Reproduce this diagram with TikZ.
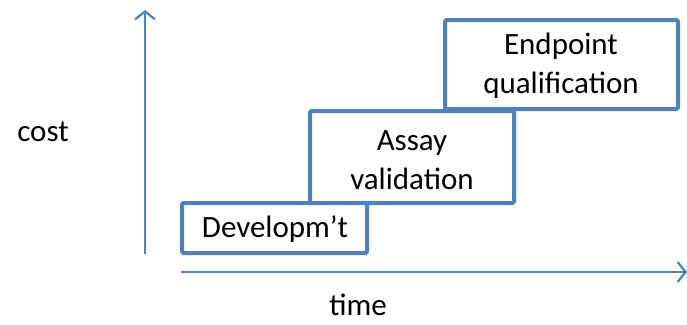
\documentclass[tikz,border=0pt]{standalone}
\usepackage{fontspec}
\setmainfont{Carlito}
\usetikzlibrary{arrows.meta}
\definecolor{ofblue}{HTML}{4F81BD}
\begin{document}
\begin{tikzpicture}[x=1pt,y=-1pt,
  stage/.style={draw=ofblue,line width=4pt,fill=white,rounded corners=1.5pt},
  lbl/.style={font=\fontsize{31}{39}\selectfont,align=center,inner sep=0pt},
  word/.style={font=\fontsize{31}{39}\selectfont,inner sep=0pt},
  axis/.style={draw=ofblue,line width=2.2pt,-{Straight Barb[length=8pt,width=20pt,line width=2.2pt]}}]
\useasboundingbox (0,0) rectangle (687,324);
% boxes
\draw[stage] (310,111) rectangle (514,203);
\draw[stage] (445,20) rectangle (678,109);
\draw[stage] (182,203) rectangle (367,253);
\node[lbl] (dev) at (275,229) {Developm’t};
\node[lbl] (assay) at (412,160) {Assay\\validation};
\node[lbl] (endp) at (561,66) {Endpoint\\qualification};
% axes
\coordinate (y0) at (145,254);
\coordinate (y1) at (145,10);
\coordinate (x0) at (181,272);
\coordinate (x1) at (687,272);
\draw[axis] (y0) -- (y1);
\draw[axis] (x0) -- (x1);
\node[word,anchor=base] (cost) at (43,141) {cost};
\node[word,anchor=base] (time) at (358,315) {time};
\end{tikzpicture}
\end{document}
